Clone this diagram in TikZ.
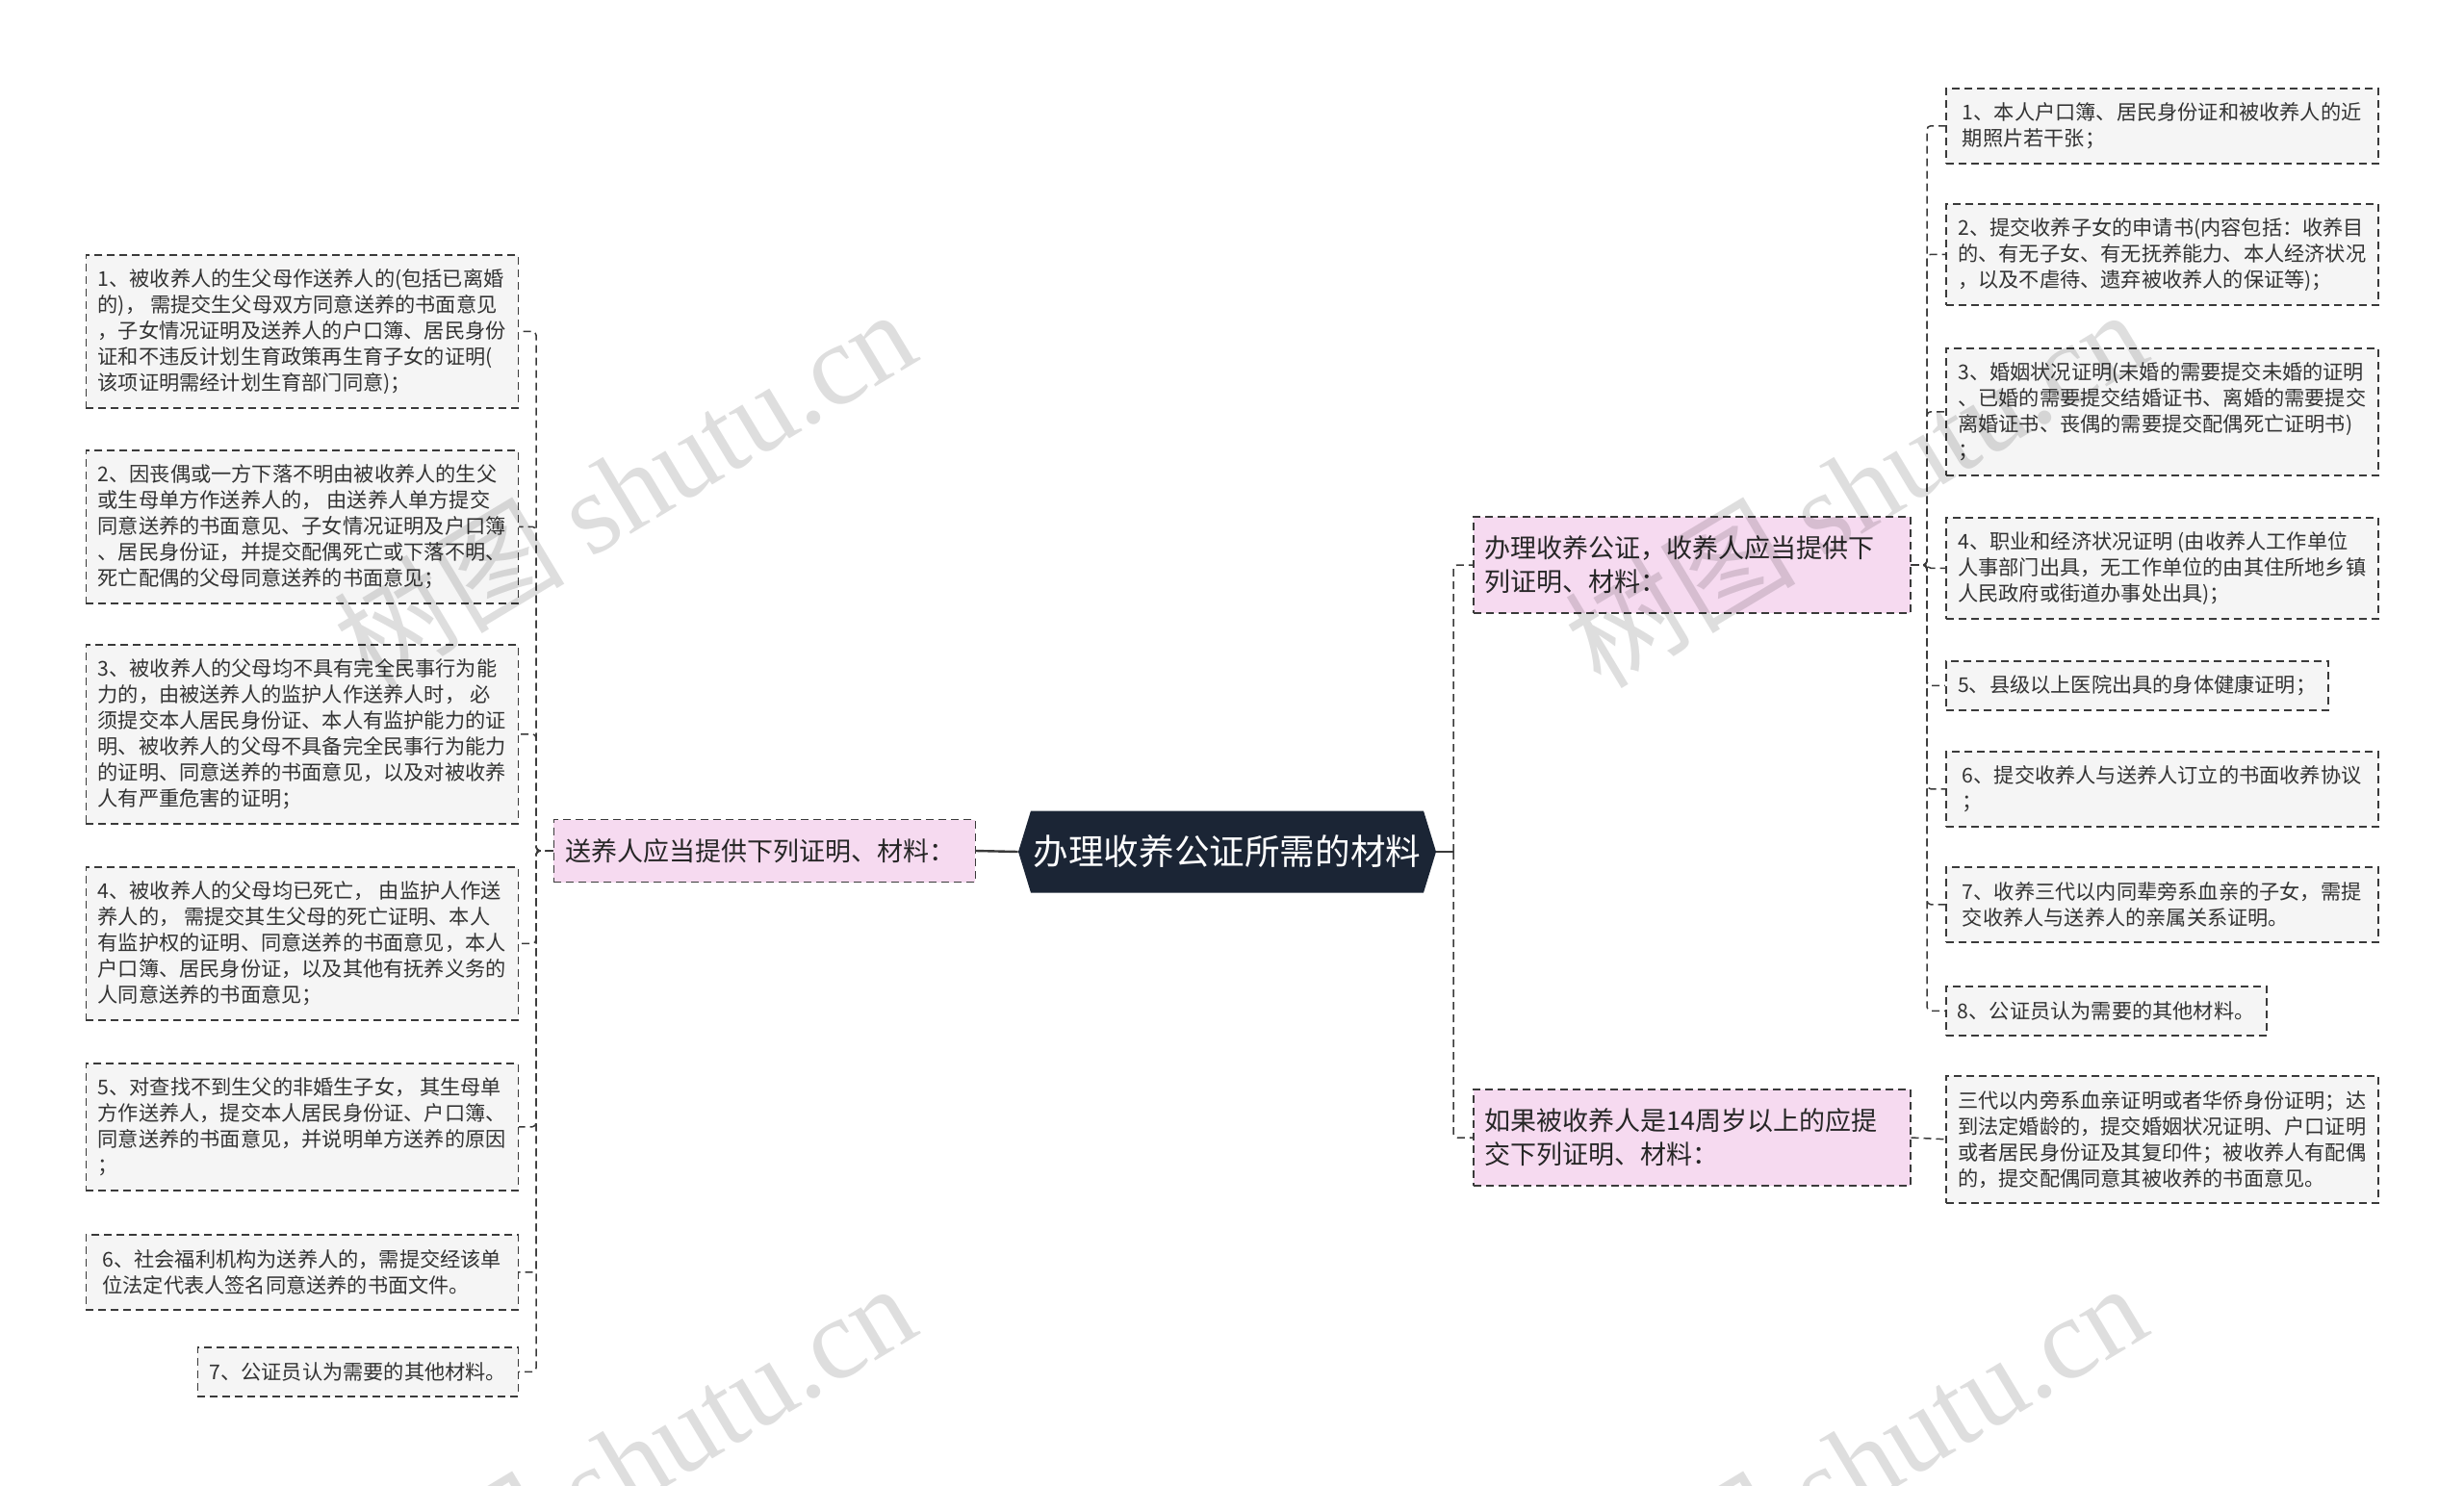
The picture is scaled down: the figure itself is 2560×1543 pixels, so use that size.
\documentclass[tikz,border=0pt]{standalone}
\usepackage{fontspec}
\setmainfont{Noto Sans CJK SC}
\newfontfamily\wmserif{Liberation Serif}
\usetikzlibrary{shapes.symbols}

\definecolor{rootfill}{HTML}{1B2535}
\definecolor{pinkfill}{HTML}{F6DAF0}
\definecolor{leaffill}{HTML}{F5F5F5}
\definecolor{edgegray}{HTML}{3A3A3A}
\definecolor{textgray}{HTML}{333333}

\tikzset{
 dashline/.style={draw=edgegray, line width=0.75pt, dash pattern=on 4pt off 2.5pt},
 leafbox/.style={dashline, fill=leaffill, text=textgray, align=left, inner xsep=6pt, inner ysep=2pt,
   font=\fontsize{10.6}{13.5}\selectfont, minimum width=224.5pt, minimum height={13.5pt*#1+12pt}},
 branchbox/.style={dashline, fill=pinkfill, text=black!85, align=left, inner xsep=6pt, inner ysep=2pt,
   font=\fontsize{13.5}{17.5}\selectfont, minimum height={17.5pt*#1+15pt}},
 rootnode/.style={shape=signal, signal to=west and east, signal pointer angle=146, fill=rootfill,
   text=white, font=\fontsize{18.3}{22}\selectfont, minimum width=217pt, minimum height=42.5pt, inner sep=0pt},
 conn/.style={dashline, rounded corners=2pt},
 rootline/.style={draw=edgegray, line width=1.2pt},
 watermark/.style={rotate=31, text=black, opacity=0.13, font=\fontsize{60}{60}\selectfont},
}

\begin{document}
\begin{tikzpicture}[x=0.5pt,y=-0.5pt]
 \fill[white] (0,0) rectangle (2560,1543);
 \useasboundingbox (0,0) rectangle (2560,1543);

 % centre and branches
 \node[rootnode] (root) at (1275,885) {办理收养公证所需的材料};
 \node[branchbox=1, anchor=east, text width=207pt] (sendbox) at (1014,884) {送养人应当提供下列证明、材料：};
 \node[branchbox=2, anchor=west, text width=215pt] (adoptbox) at (1530,587) {办理收养公证，收养人应当提供下\\列证明、材料：};
 \node[branchbox=2, anchor=west, text width=215pt] (olderbox) at (1530,1182) {如果被收养人是14周岁以上的应提\\交下列证明、材料：};

 % left leaves
 \node[leafbox=5, anchor=north east] (s1) at (539,264) {1、被收养人的生父母作送养人的(包括已离婚\\的)， 需提交生父母双方同意送养的书面意见\\，子女情况证明及送养人的户口簿、居民身份\\证和不违反计划生育政策再生育子女的证明(\\该项证明需经计划生育部门同意)；};
 \node[leafbox=5, anchor=north east] (s2) at (539,467) {2、因丧偶或一方下落不明由被收养人的生父\\或生母单方作送养人的， 由送养人单方提交\\同意送养的书面意见、子女情况证明及户口簿\\、居民身份证，并提交配偶死亡或下落不明、\\死亡配偶的父母同意送养的书面意见；};
 \node[leafbox=6, anchor=north east] (s3) at (539,669) {3、被收养人的父母均不具有完全民事行为能\\力的，由被送养人的监护人作送养人时， 必\\须提交本人居民身份证、本人有监护能力的证\\明、被收养人的父母不具备完全民事行为能力\\的证明、同意送养的书面意见，以及对被收养\\人有严重危害的证明；};
 \node[leafbox=5, anchor=north east] (s4) at (539,900) {4、被收养人的父母均已死亡， 由监护人作送\\养人的， 需提交其生父母的死亡证明、本人\\有监护权的证明、同意送养的书面意见，本人\\户口簿、居民身份证，以及其他有抚养义务的\\人同意送养的书面意见；};
 \node[leafbox=4, anchor=north east] (s5) at (539,1104) {5、对查找不到生父的非婚生子女， 其生母单\\方作送养人，提交本人居民身份证、户口簿、\\同意送养的书面意见，并说明单方送养的原因\\；};
 \node[leafbox=2, anchor=north east] (s6) at (539,1282) {6、社会福利机构为送养人的，需提交经该单\\位法定代表人签名同意送养的书面文件。};
 \node[leafbox=1, anchor=north east, minimum width=166.5pt] (s7) at (539,1399) {7、公证员认为需要的其他材料。};

 % right leaves
 \node[leafbox=2, anchor=north west] (a1) at (2021,91) {1、本人户口簿、居民身份证和被收养人的近\\期照片若干张；};
 \node[leafbox=3, anchor=north west] (a2) at (2021,211) {2、提交收养子女的申请书(内容包括：收养目\\的、有无子女、有无抚养能力、本人经济状况\\，以及不虐待、遗弃被收养人的保证等)；};
 \node[leafbox=4, anchor=north west] (a3) at (2021,361) {3、婚姻状况证明(未婚的需要提交未婚的证明\\、已婚的需要提交结婚证书、离婚的需要提交\\离婚证书、丧偶的需要提交配偶死亡证明书)\\；};
 \node[leafbox=3, anchor=north west] (a4) at (2021,537) {4、职业和经济状况证明 (由收养人工作单位\\人事部门出具，无工作单位的由其住所地乡镇\\人民政府或街道办事处出具)；};
 \node[leafbox=1, anchor=north west, minimum width=198.5pt] (a5) at (2021,686) {5、县级以上医院出具的身体健康证明；};
 \node[leafbox=2, anchor=north west] (a6) at (2021,780) {6、提交收养人与送养人订立的书面收养协议\\；};
 \node[leafbox=2, anchor=north west] (a7) at (2021,900) {7、收养三代以内同辈旁系血亲的子女，需提\\交收养人与送养人的亲属关系证明。};
 \node[leafbox=1, anchor=north west, minimum width=166.5pt] (a8) at (2021,1024) {8、公证员认为需要的其他材料。};
 \node[leafbox=4, anchor=north west] (o1) at (2021,1117) {三代以内旁系血亲证明或者华侨身份证明；达\\到法定婚龄的，提交婚姻状况证明、户口证明\\或者居民身份证及其复印件；被收养人有配偶\\的，提交配偶同意其被收养的书面意见。};

 % connectors
 \coordinate (sj) at (557,884);
 \coordinate (rj) at (1510,885);
 \coordinate (aj) at (2002,587);
 \draw[rootline] (root.west) -- (sendbox.east);
 \foreach \i in {1,...,7} \draw[conn] (sendbox.west) -- (sj) |- (s\i.east);
 \draw[rootline] (root.east) -- (rj);
 \draw[conn] (rj) |- (adoptbox.west);
 \draw[conn] (rj) |- (olderbox.west);
 \foreach \i in {1,...,8} \draw[conn] (adoptbox.east) -- (aj) |- (a\i.west);
 \draw[conn] (olderbox.east) -- (o1.west);

 % watermarks
 \node[watermark] (wm1) at (648,506) {树图 {\wmserif shutu.cn}};
 \node[watermark] (wm2) at (1927,506) {树图 {\wmserif shutu.cn}};
 \node[watermark] (wm3) at (648,1518) {树图 {\wmserif shutu.cn}};
 \node[watermark] (wm4) at (1927,1518) {树图 {\wmserif shutu.cn}};
\end{tikzpicture}
\end{document}
